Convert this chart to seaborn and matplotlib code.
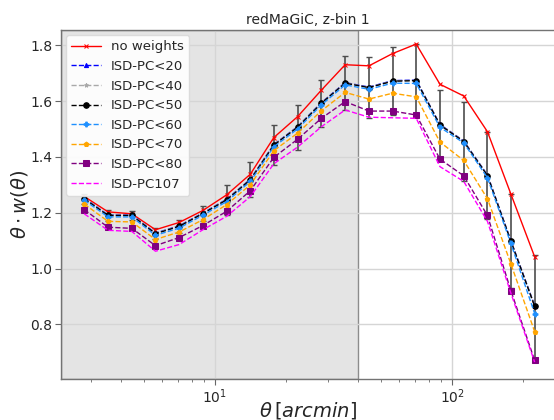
import numpy as np
import pandas as pd
import matplotlib
matplotlib.use("Agg")
import matplotlib.pyplot as plt
import seaborn as sns

sns.set_style("whitegrid")
plt.rcParams['font.family'] = ['DejaVu Sans']

# angular bin centres [arcmin]
theta = [2.81, 3.54, 4.46, 5.61, 7.06, 8.89, 11.2, 14.1, 17.7, 22.3,
         28.1, 35.4, 44.6, 56.1, 70.6, 88.9, 112.0, 141.0, 177.0, 223.0]

no_weights = [1.258, 1.203, 1.196, 1.139, 1.165, 1.208, 1.264, 1.338, 1.469, 1.544,
              1.639, 1.730, 1.726, 1.770, 1.804, 1.660, 1.618, 1.490, 1.267, 1.042]
pc20 = [1.252, 1.192, 1.192, 1.127, 1.153, 1.199, 1.248, 1.320, 1.444, 1.508,
        1.594, 1.666, 1.650, 1.673, 1.675, 1.516, 1.457, 1.335, 1.100, 0.867]
pc40 = [1.251, 1.191, 1.191, 1.126, 1.152, 1.198, 1.247, 1.319, 1.443, 1.507,
        1.593, 1.665, 1.649, 1.672, 1.674, 1.515, 1.456, 1.334, 1.099, 0.866]
pc50 = [1.250, 1.190, 1.190, 1.125, 1.151, 1.197, 1.246, 1.318, 1.442, 1.506,
        1.592, 1.664, 1.648, 1.671, 1.673, 1.514, 1.455, 1.333, 1.098, 0.865]
pc60 = [1.245, 1.185, 1.185, 1.119, 1.145, 1.191, 1.240, 1.312, 1.436, 1.500,
        1.586, 1.658, 1.642, 1.664, 1.663, 1.506, 1.450, 1.325, 1.090, 0.839]
pc70 = [1.231, 1.169, 1.167, 1.104, 1.131, 1.175, 1.229, 1.300, 1.422, 1.485,
        1.565, 1.631, 1.607, 1.628, 1.615, 1.453, 1.387, 1.250, 1.017, 0.774]
pc80 = [1.211, 1.148, 1.144, 1.082, 1.111, 1.154, 1.205, 1.279, 1.398, 1.463,
        1.538, 1.598, 1.564, 1.564, 1.550, 1.392, 1.332, 1.190, 0.921, 0.671]
pc107 = [1.196, 1.137, 1.133, 1.062, 1.086, 1.139, 1.187, 1.258, 1.375, 1.435,
         1.508, 1.568, 1.542, 1.540, 1.538, 1.365, 1.312, 1.169, 0.912, 0.665]

# error on the ISD-PC<50 curve
err50 = [0.018, 0.018, 0.017, 0.019, 0.022, 0.027, 0.054, 0.062, 0.072, 0.080,
         0.085, 0.096, 0.110, 0.121, 0.131, 0.125, 0.141, 0.157, 0.169, 0.185]

series = [
    ("no weights", no_weights, "red", "x", "-", 3),
    ("ISD-PC<20", pc20, "blue", "^", "--", 3),
    ("ISD-PC<40", pc40, "darkgray", "*", "--", 3),
    ("ISD-PC<50", pc50, "black", "o", "--", 4),
    ("ISD-PC<60", pc60, "dodgerblue", "P", "--", 3.5),
    ("ISD-PC<70", pc70, "orange", "p", "--", 3.5),
    ("ISD-PC<80", pc80, "purple", "s", "--", 4),
    ("ISD-PC107", pc107, "magenta", "", "--", 0),
]

fig = plt.figure(figsize=(5.54, 4.2), dpi=100)
ax = fig.add_axes([0.110, 0.098, 0.892, 0.831])

xmin, xmax = 2.24, 272
ax.axvspan(xmin, 40, facecolor='#e4e4e4', edgecolor='0.55', linewidth=1.0, zorder=0.1)

for name, vals, col, mk, ls, ms in series:
    kw = dict(marker=mk, markersize=ms, markeredgecolor=col) if mk else {}
    sns.lineplot(x=theta, y=vals, ax=ax, color=col, linestyle=ls, linewidth=1.0,
                 label=name, **kw)

ax.errorbar(theta, pc50, yerr=err50, fmt='none', ecolor='0.3', elinewidth=1.2,
            capsize=2.5, capthick=1.0, zorder=1.5)

ax.set_xscale('log')
ax.set_xlim(xmin, xmax)
ax.set_ylim(0.605, 1.855)
ax.set_yticks([0.8, 1.0, 1.2, 1.4, 1.6, 1.8])
ax.grid(True, which='major', color='#d5d5d5', linewidth=1.0)
ax.set_axisbelow(True)

ax.tick_params(axis='both', which='major', labelsize=10, length=4, color='0.4',
               bottom=True, left=True, direction='out', pad=2)
ax.tick_params(axis='x', which='minor', length=2, color='0.4', bottom=True)
for sp in ax.spines.values():
    sp.set_color('0.45')
    sp.set_linewidth(1.0)

ax.set_xlabel(r'$\theta\,[arcmin]$', fontsize=14, labelpad=-4)
ax.set_ylabel(r'$\theta \cdot w(\theta)$', fontsize=14, labelpad=0)
ax.set_title('redMaGiC, z-bin 1', fontsize=10, pad=4)

ax.legend(loc='upper left', fontsize=9.5, frameon=True, framealpha=0.9,
          edgecolor='0.85', borderaxespad=0.4, handlelength=2.2)

fig.savefig('out.png', dpi=100)
